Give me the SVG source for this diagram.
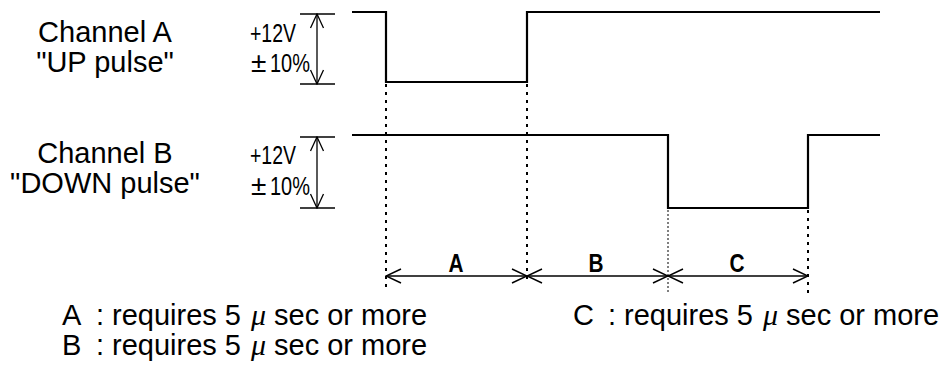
<svg xmlns="http://www.w3.org/2000/svg" width="945" height="367" viewBox="0 0 945 367">
<style>
  .lbl { font-family: "Liberation Sans", Arial, sans-serif; font-size: 29px; fill: #000; }
  .volt { font-family: "Liberation Sans", Arial, sans-serif; font-size: 25px; fill: #000; }
  .pm { font-family: "Liberation Sans", Arial, sans-serif; font-size: 28px; fill: #000; }
  .dim { font-family: "Liberation Sans", Arial, sans-serif; font-size: 26px; font-weight: bold; fill: #000; }
  .mu { font-family: "Liberation Serif", "Times New Roman", serif; font-style: italic; font-size: 30px; fill: #000; }
  .wave { fill: none; stroke: #000; stroke-width: 2.2; stroke-linejoin: miter; }
  .tick { stroke: #000; stroke-width: 1.5; }
  .varrow { stroke: #000; stroke-width: 1.3; fill: none; }
  .dotthick { stroke: #000; stroke-width: 2; stroke-dasharray: 3 5; fill: none; }
  .dotthin { stroke: #000; stroke-width: 1; stroke-dasharray: 2 2; fill: none; }
  .dimline { stroke: #000; stroke-width: 1.5; fill: none; }
</style>
<defs>
  <marker id="openArrow" markerUnits="userSpaceOnUse" viewBox="-16 -8 17 16" markerWidth="17" markerHeight="16" refX="0" refY="0" orient="auto-start-reverse">
    <path d="M -15 -7 L 0 0 L -15 7" fill="none" stroke="#000" stroke-width="1.5"/>
  </marker>
  <marker id="voltArrow" markerUnits="userSpaceOnUse" viewBox="-15 -8 16 16" markerWidth="16" markerHeight="16" refX="0" refY="0" orient="auto-start-reverse">
    <path d="M -14 -6.5 L 0 0 L -14 6.5" fill="none" stroke="#000" stroke-width="1.3"/>
  </marker>
</defs>
<rect x="0" y="0" width="945" height="367" fill="#fff"/>

<g id="label-channel-a">
  <text class="lbl" x="105" y="42" text-anchor="middle">Channel A</text>
  <text class="lbl" x="105" y="72" text-anchor="middle">"UP pulse"</text>
</g>
<g id="label-channel-b">
  <text class="lbl" x="105" y="163" text-anchor="middle">Channel B</text>
  <text class="lbl" x="105" y="193" text-anchor="middle">"DOWN pulse"</text>
</g>

<g id="volt-a">
  <line class="tick" x1="300" y1="14" x2="335" y2="14"/>
  <line class="tick" x1="300" y1="84" x2="335" y2="84"/>
  <line class="varrow" x1="317" y1="14" x2="317" y2="84" marker-start="url(#voltArrow)" marker-end="url(#voltArrow)"/>
  <text class="volt" x="250" y="42" textLength="46" lengthAdjust="spacingAndGlyphs">+12V</text>
  <text class="pm" x="251" y="72">±</text>
  <text class="volt" x="270" y="72" textLength="40" lengthAdjust="spacingAndGlyphs">10%</text>
</g>
<g id="volt-b">
  <line class="tick" x1="300" y1="137" x2="335" y2="137"/>
  <line class="tick" x1="300" y1="208" x2="335" y2="208"/>
  <line class="varrow" x1="317" y1="137" x2="317" y2="208" marker-start="url(#voltArrow)" marker-end="url(#voltArrow)"/>
  <text class="volt" x="250" y="164" textLength="46" lengthAdjust="spacingAndGlyphs">+12V</text>
  <text class="pm" x="251" y="195">±</text>
  <text class="volt" x="270" y="195" textLength="40" lengthAdjust="spacingAndGlyphs">10%</text>
</g>

<g id="wave-a">
  <path class="wave" d="M352 12 H386 V82 H527 V12 H880"/>
</g>
<g id="wave-b">
  <path class="wave" d="M352 135 H668 V208 H808 V135 H880"/>
</g>

<g id="connectors">
  <line class="dotthick" x1="386" y1="84" x2="386" y2="287"/>
  <line class="dotthick" x1="527" y1="84" x2="527" y2="284"/>
  <line class="dotthin" x1="668" y1="210" x2="668" y2="293"/>
  <line class="dotthick" x1="808" y1="210" x2="808" y2="293"/>
  <line class="dimline" x1="386" y1="276" x2="527" y2="276" marker-start="url(#openArrow)" marker-end="url(#openArrow)"/>
  <line class="dimline" x1="527" y1="276" x2="668" y2="276" marker-start="url(#openArrow)" marker-end="url(#openArrow)"/>
  <line class="dimline" x1="668" y1="276" x2="808" y2="276" marker-start="url(#openArrow)" marker-end="url(#openArrow)"/>
</g>

<g id="dim-labels">
  <text class="dim" x="456" y="272" text-anchor="middle" textLength="15" lengthAdjust="spacingAndGlyphs">A</text>
  <text class="dim" x="596" y="272" text-anchor="middle" textLength="15" lengthAdjust="spacingAndGlyphs">B</text>
  <text class="dim" x="737" y="272" text-anchor="middle" textLength="15" lengthAdjust="spacingAndGlyphs">C</text>
</g>

<g id="legend">
  <text class="lbl" x="62" y="325">A</text>
  <text class="lbl" x="96" y="325">:</text>
  <text class="lbl" x="112" y="325">requires 5</text>
  <text class="mu" x="251" y="325">μ</text>
  <text class="lbl" x="274" y="325">sec or more</text>

  <text class="lbl" x="62" y="355">B</text>
  <text class="lbl" x="96" y="355">:</text>
  <text class="lbl" x="112" y="355">requires 5</text>
  <text class="mu" x="251" y="355">μ</text>
  <text class="lbl" x="274" y="355">sec or more</text>

  <text class="lbl" x="573" y="325">C</text>
  <text class="lbl" x="608" y="325">:</text>
  <text class="lbl" x="624" y="325">requires 5</text>
  <text class="mu" x="763" y="325">μ</text>
  <text class="lbl" x="786" y="325">sec or more</text>
</g>
</svg>
